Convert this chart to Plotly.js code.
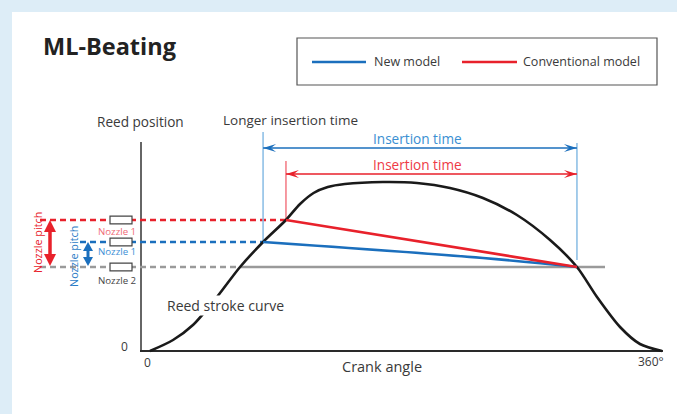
<!DOCTYPE html>
<html><head><meta charset="utf-8">
<script src="https://cdn.plot.ly/plotly-3.0.1.min.js"></script>
<style>html,body{margin:0;padding:0;background:#ddedf7}</style>
</head><body><div id="chart" style="width:677px;height:414px"></div>
<script>
// ---- data ----
const crankAngle   = [0, 16.2, 30.2, 47.1, 63.3, 79.5, 95.6, 105.5, 115.0, 125.0, 137.0, 163.8, 187.7, 210.9, 234.1, 258.0, 281.3, 300.2, 314.3, 330.5, 344.5, 360];
const reedPosition = [0, 11, 26, 54, 84, 109, 131, 147, 158, 164, 167, 169, 168, 163, 153, 136, 111, 84, 54, 24, 7, 0];
const nozzleLevels = {nozzle2: 84, newNozzle1: 109, convNozzle1: 131};
const newModelAngle  = [79.5, 234.1, 300.2];
const newModelReed   = [109, 93, 84];
const convModelAngle = [95.6, 300.2];
const convModelReed  = [131, 84];
const xTickLabels = ['0', '360°'];
const xTickValues = [0, 360];

// ---- layout helpers (decoration only) ----
const W = 677, H = 414, ML = 12, MT = 12;
const X = px => (px - 150) * 360 / 512;      // pixel -> crank angle
const Y = py => 351 - py;                     // pixel -> reed units
const PX = px => (px - ML) / (W - ML);        // pixel -> paper
const PY = py => (H - py) / (H - MT);

const BLUE = '#1b6fbd', RED = '#e8212b', LBLUE = '#8fc0e6', LRED = '#f3808a', GRAY = '#9a9a9a', TXT = '#3a3a3a';
const FONT = '"Open Sans", sans-serif';

const openNew = newModelAngle[0], openConv = convModelAngle[0], closeAng = convModelAngle[convModelAngle.length - 1];

const traces = [
  {x: crankAngle, y: reedPosition, mode: 'lines', line: {color: '#1a1a1a', width: 2.6, shape: 'spline', smoothing: 0.8}, name: 'Reed stroke curve', hoverinfo: 'skip'},
  {x: newModelAngle, y: newModelReed, mode: 'lines', line: {color: BLUE, width: 2.6, shape: 'spline'}, name: 'New model'},
  {x: convModelAngle, y: convModelReed, mode: 'lines', line: {color: RED, width: 2.6}, name: 'Conventional model'}
];

const shapes = [];
function line(x0, y0, x1, y1, color, width, dash, ref) {
  shapes.push({type: 'line', xref: ref || 'x', yref: ref || 'y', x0, y0, x1, y1, line: {color, width, dash: dash || 'solid'}, layer: 'below'});
}
function path(d, color, ref) {
  shapes.push({type: 'path', xref: ref || 'x', yref: ref || 'y', path: d, fillcolor: color, line: {width: 0}, layer: 'above'});
}
// axes
line(X(141), Y(142), X(141), Y(352), '#666', 2);
line(X(140), 0, X(663), 0, '#2a2a2a', 2);
// nozzle level lines
line(X(40), nozzleLevels.nozzle2, 63.3, nozzleLevels.nozzle2, GRAY, 2.4, '6px,4px');
line(63.3, nozzleLevels.nozzle2, X(605), nozzleLevels.nozzle2, GRAY, 2.6);
line(X(40), nozzleLevels.convNozzle1, openConv, nozzleLevels.convNozzle1, RED, 2.4, '6px,4px');
line(X(80), nozzleLevels.newNozzle1, openNew, nozzleLevels.newNozzle1, BLUE, 2.4, '6px,4px');
// insertion time boundaries
line(openNew, nozzleLevels.newNozzle1, openNew, Y(132), LBLUE, 1.6);
line(closeAng, Y(260), closeAng, Y(143), LBLUE, 1.6);
line(openConv, nozzleLevels.convNozzle1, openConv, Y(161), LRED, 1.6);
// insertion arrows
const yBlueArr = Y(148), yRedArr = Y(174);
line(openNew, yBlueArr, closeAng, yBlueArr, BLUE, 1.3);
line(openConv, yRedArr, closeAng, yRedArr, RED, 1.3);
function hHead(xt, y, dir, len, hw, color) { // dir: +1 points right, -1 left
  const b = xt - dir * X(150 + len), n = xt - dir * X(150 + len * 0.6);
  path(`M${xt},${y} L${b},${y + hw} L${n},${y} L${b},${y - hw} Z`, color);
}
hHead(openNew, yBlueArr, -1, 13, 4, BLUE);
hHead(closeAng, yBlueArr, 1, 13, 4, BLUE);
hHead(openConv, yRedArr, -1, 13, 4, RED);
hHead(closeAng, yRedArr, 1, 13, 4, RED);
// nozzle pitch vertical arrows
function vArrow(px, yTop, yBot, color, width, len, hw) {
  const xc = X(px), dx = X(150 + hw) ;
  line(xc, yTop - len * 0.7, xc, yBot + len * 0.7, color, width);
  path(`M${xc},${yTop} L${xc + dx},${yTop - len} L${xc - dx},${yTop - len} Z`, color);
  path(`M${xc},${yBot} L${xc + dx},${yBot + len} L${xc - dx},${yBot + len} Z`, color);
}
vArrow(50, nozzleLevels.convNozzle1, nozzleLevels.nozzle2 + 1, RED, 3.5, 12, 6);
vArrow(88, nozzleLevels.newNozzle1, nozzleLevels.nozzle2 + 1, BLUE, 3, 9, 5);
// nozzle boxes
[nozzleLevels.convNozzle1, nozzleLevels.newNozzle1, nozzleLevels.nozzle2].forEach(v => {
  shapes.push({type: 'rect', xref: 'x', yref: 'y', x0: X(110), x1: X(132), y0: v - 3.8, y1: v + 3.8, fillcolor: '#fff', line: {color: '#444', width: 1.2}, layer: 'above'});
});
// legend box
shapes.push({type: 'rect', xref: 'paper', yref: 'paper', x0: PX(297), x1: PX(657), y0: PY(85), y1: PY(38), fillcolor: '#fff', line: {color: '#555', width: 1.2}, layer: 'below'});
line(PX(312), PY(62), PX(366), PY(62), BLUE, 2.6, null, 'paper');
line(PX(462), PY(62), PX(517), PY(62), RED, 2.6, null, 'paper');

const ann = [];
function txt(text, px, py, size, color, opts) {
  ann.push(Object.assign({text, xref: 'paper', yref: 'paper', x: PX(px), y: PY(py), xanchor: 'center', yanchor: 'middle', showarrow: false,
    font: {family: FONT, size, color}}, opts || {}));
}
txt('<b>ML-Beating</b>', 41, 46, 23.5, '#222', {xanchor: 'left'});
txt('New model', 372, 62, 12.5, TXT, {xanchor: 'left'});
txt('Conventional model', 521, 62, 12.5, TXT, {xanchor: 'left'});
txt('Reed position', 140, 121, 13.6, TXT);
txt('Longer insertion time', 221, 120, 13.5, TXT, {xanchor: 'left'});
txt('Insertion time', 417, 138, 13.6, '#3a8fd2');
txt('Insertion time', 417, 164, 13.6, '#ee3a45');
txt('Nozzle 1', 117, 231, 9.7, '#f06a75');
txt('Nozzle 1', 117, 252, 9.7, '#3d8fd6');
txt('Nozzle 2', 117, 280, 9.7, '#444');
txt('Nozzle pitch', 37, 243, 10.8, RED, {textangle: -90});
txt('Nozzle pitch', 73, 257, 10.8, '#2b7cc6', {textangle: -90});
txt('Reed stroke curve', 166, 305, 14, TXT, {xanchor: 'left', bgcolor: '#fff', borderpad: 0});
txt('0', 124, 346, 12, TXT);
txt(xTickLabels[0], 147, 362, 12, TXT);
txt(xTickLabels[1], 651, 361, 12, TXT);
txt('Crank angle', 382, 366, 14.5, TXT);

const layout = {
  width: W, height: H,
  margin: {l: ML, r: 0, t: MT, b: 0, pad: 0},
  paper_bgcolor: '#ddedf7', plot_bgcolor: '#ffffff',
  showlegend: false,
  xaxis: {range: [X(12), X(677)], visible: false, fixedrange: true, tickvals: xTickValues},
  yaxis: {range: [Y(414), Y(12)], visible: false, fixedrange: true},
  shapes, annotations: ann
};
Plotly.newPlot('chart', traces, layout, {staticPlot: true, displayModeBar: false});
</script></body></html>
